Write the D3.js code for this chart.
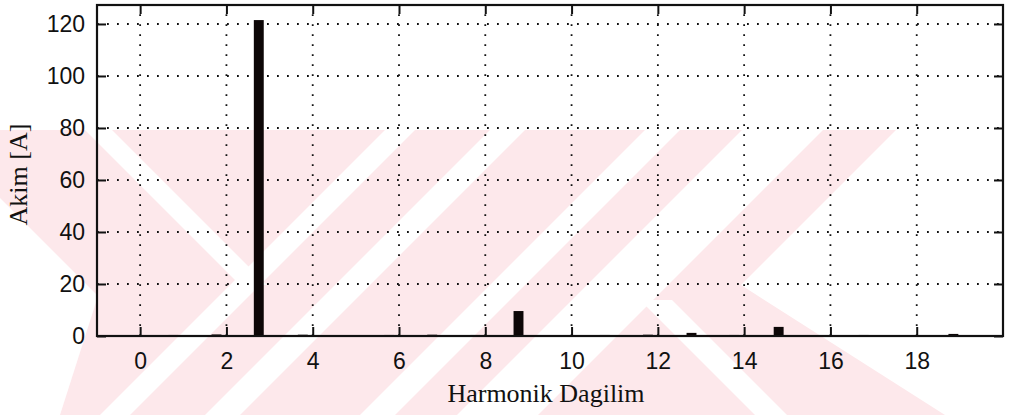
<!DOCTYPE html>
<html>
<head>
<meta charset="utf-8">
<script src="https://cdn.jsdelivr.net/npm/d3@7/dist/d3.min.js"></script>
<style>
  html, body { margin: 0; padding: 0; background: #fff; }
  svg { display: block; }
  .tick-label { font-family: "Liberation Sans", Arial, sans-serif; font-size: 23px; fill: #111; }
  .axis-title { font-family: "Liberation Serif", "DejaVu Serif", serif; font-size: 26px; fill: #111; }
</style>
</head>
<body>
<svg id="chart" width="1009" height="415"></svg>
<script>
// Harmonic spectrum: bar positions (harmonic bins) and current amplitudes [A]
const harmonicBins = [0.77, 1.77, 2.75, 3.77, 4.77, 5.77, 6.77, 7.77, 8.77, 9.77,
                      10.77, 11.77, 12.78, 13.77, 14.8, 15.77, 16.77, 17.77, 18.85, 19.77];
const currentAmps  = [0.4, 0.6, 121.5, 0.5, 0.3, 0.4, 0.5, 0.4, 9.6, 0.3,
                      0.4, 0.5, 1.2, 0.4, 3.5, 0.3, 0.4, 0.3, 0.8, 0.3];
const xTicks = [0, 2, 4, 6, 8, 10, 12, 14, 16, 18];
const yTicks = [0, 20, 40, 60, 80, 100, 120];
const xDomain = [-1, 20];
const yDomain = [0, 127.3];
const xTitle = "Harmonik Dagilim";
const yTitle = "Akim [A]";

const W = 1009, H = 415;
const margin = { left: 97, right: 6, top: 5, bottom: 79 };
const svg = d3.select("#chart");

// ---- faint diagonal-stripe watermark behind the plot ----
const pink = "#fde8eb";
const top0 = 130;
const defs = svg.append("defs");
defs.append("clipPath").attr("id", "wmClip")
  .append("rect").attr("x", 0).attr("y", top0).attr("width", W).attr("height", H - top0);
const wm = svg.append("g").attr("clip-path", "url(#wmClip)");
wm.append("rect").attr("x", 0).attr("y", top0).attr("width", W).attr("height", H - top0).attr("fill", pink);
// "/" white stripes: band of x + y between u0 and u1
const slash = (u0, u1) => wm.append("polygon")
  .attr("points", [[u0 - top0, top0], [u1 - top0, top0], [u1 - H, H], [u0 - H, H]].join(" "))
  .attr("fill", "#fff");
// "\" white stripes: band of x - y between v0 and v1, limited to a y range
const backslash = (v0, v1, ya, yb) => wm.append("polygon")
  .attr("points", [[v0 + ya, ya], [v1 + ya, ya], [v1 + yb, yb], [v0 + yb, yb]].join(" "))
  .attr("fill", "#fff");
slash(515, 545);
slash(620, 655);
slash(775, 810);
slash(872, 953);
backslash(-45, -18, top0, 285);
backslash(340, 372, 300, H);
// upper-right area free of watermark
wm.append("polygon")
  .attr("points", [[1026 - top0, top0], [W, top0], [W, H], [945, H], [1026 - 285, 285]].join(" "))
  .attr("fill", "#fff");
// left corner area free of watermark
wm.append("polygon")
  .attr("points", [[0, 198], [98, 296], [60, 415], [0, 415]].join(" "))
  .attr("fill", "#fff");

// ---- scales ----
const x = d3.scaleLinear().domain(xDomain).range([margin.left, W - margin.right]);
const y = d3.scaleLinear().domain(yDomain).range([H - margin.bottom, margin.top]);
const x0 = x.range()[0], x1 = x.range()[1], y0 = y.range()[0], y1 = y.range()[1];

// ---- dotted grid ----
const grid = svg.append("g").attr("stroke", "#111").attr("stroke-width", 1.8)
  .attr("stroke-dasharray", "1.8,8.2").attr("fill", "none");
grid.selectAll("line.gx").data(xTicks).join("line")
  .attr("x1", d => x(d)).attr("x2", d => x(d)).attr("y1", y0).attr("y2", y1);
grid.selectAll("line.gy").data(yTicks.filter(d => d > 0)).join("line")
  .attr("y1", d => y(d)).attr("y2", d => y(d)).attr("x1", x0).attr("x2", x1);

// ---- bars ----
const barW = x(0.23) - x(0);
svg.append("g").attr("fill", "#0d0707")
  .selectAll("rect").data(harmonicBins.map((b, i) => ({ b, v: currentAmps[i] }))).join("rect")
  .attr("x", d => x(d.b) - barW / 2)
  .attr("width", barW)
  .attr("y", d => y(d.v))
  .attr("height", d => y(0) - y(d.v));

// ---- axes (box with inward ticks on all sides) ----
const tickLen = 9;
const axB = svg.append("g").attr("transform", `translate(0,${y0})`)
  .call(d3.axisBottom(x).tickValues(xTicks).tickSizeInner(-tickLen).tickSizeOuter(0).tickPadding(14));
const axT = svg.append("g").attr("transform", `translate(0,${y1})`)
  .call(d3.axisTop(x).tickValues(xTicks).tickSizeInner(-tickLen).tickSizeOuter(0).tickFormat(""));
const axL = svg.append("g").attr("transform", `translate(${x0},0)`)
  .call(d3.axisLeft(y).tickValues(yTicks).tickSizeInner(-tickLen).tickSizeOuter(0).tickPadding(12));
const axR = svg.append("g").attr("transform", `translate(${x1},0)`)
  .call(d3.axisRight(y).tickValues(yTicks).tickSizeInner(-tickLen).tickSizeOuter(0).tickFormat(""));
[axB, axT, axL, axR].forEach(a => {
  a.attr("font-family", null).attr("font-size", null);
  a.select(".domain").remove();
  a.selectAll(".tick line").attr("stroke", "#111").attr("stroke-width", 2);
  a.selectAll(".tick text").attr("class", "tick-label");
});
axB.selectAll(".tick text").attr("dy", "0.82em");
svg.append("rect").attr("x", x0).attr("y", y1).attr("width", x1 - x0).attr("height", y0 - y1)
  .attr("fill", "none").attr("stroke", "#111").attr("stroke-width", 2.2);

// ---- titles ----
svg.append("text").attr("class", "axis-title")
  .attr("x", (x0 + x1) / 2 - 4).attr("y", 402).attr("text-anchor", "middle").text(xTitle);
svg.append("text").attr("class", "axis-title")
  .attr("transform", `translate(27,${(y0 + y1) / 2 + 4}) rotate(-90)`)
  .attr("text-anchor", "middle").text(yTitle);
</script>
</body>
</html>
